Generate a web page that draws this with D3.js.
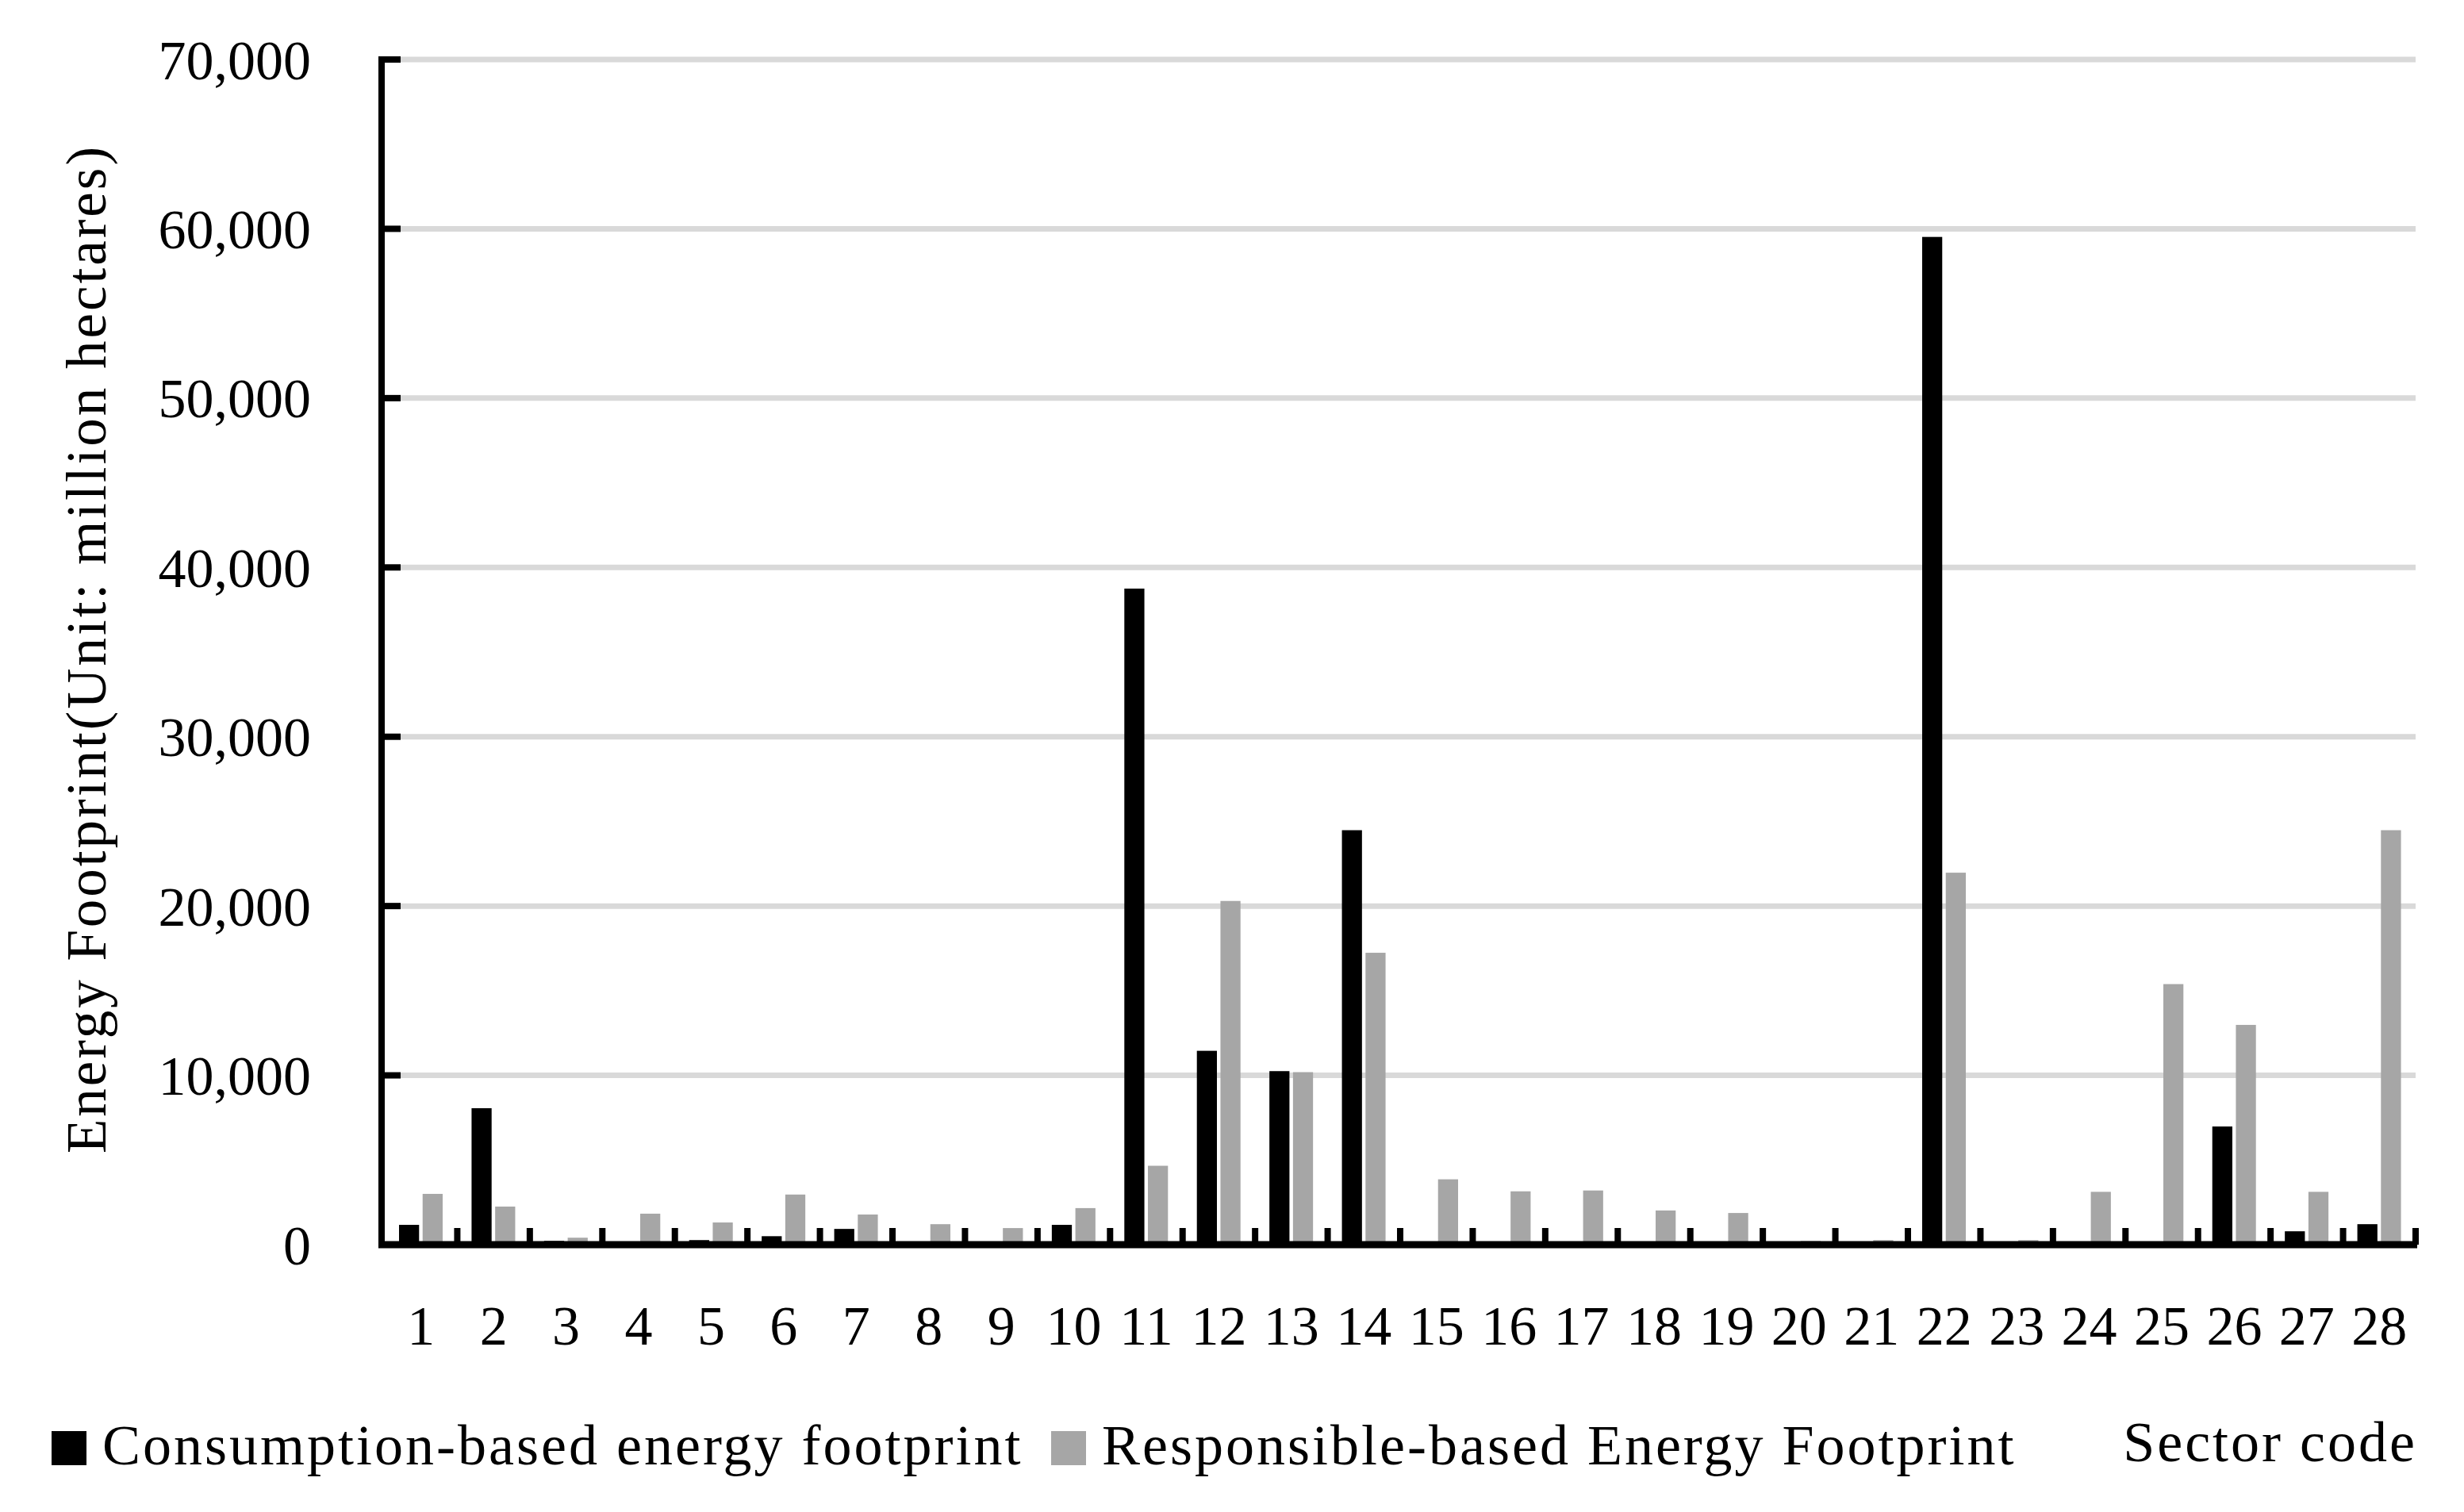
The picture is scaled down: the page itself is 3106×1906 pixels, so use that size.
<!DOCTYPE html>
<html>
<head>
<meta charset="utf-8">
<script src="https://cdn.jsdelivr.net/npm/d3@7"></script>
<style>
  body { margin: 0; background: #fff; }
  text { font-family: "Liberation Serif", "DejaVu Serif", serif; fill: #000; }
  .wide { letter-spacing: 3px; }
</style>
</head>
<body>
<svg width="3106" height="1906"></svg>
<script>
const SECTORS = d3.range(1, 29).map(String);
// consumption-based energy footprint (black bars)
const CONSUMPTION = [1170, 8060, 220, 0, 270, 500, 930, 0, 0, 1170,
  38750, 11450, 10250, 24480, 0, 130, 0, 0, 0, 0,
  0, 59520, 0, 0, 0, 6980, 790, 1210];
// responsible-based energy footprint (grey bars)
const RESPONSIBLE = [3000, 2250, 410, 1830, 1310, 2960, 1780, 1210, 980, 2160,
  4660, 20300, 10190, 17240, 3860, 3150, 3200, 2020, 1870, 220,
  270, 21970, 270, 3120, 15390, 12980, 3120, 24480];
const Y_TICKS = [0, 10000, 20000, 30000, 40000, 50000, 60000, 70000];
const SERIES = ['Consumption-based energy footprint', 'Responsible-based Energy Footprint'];
const COLORS = ['#000000', '#a6a6a6'];

const svg = d3.select('svg');
const plotLeft = 485, plotRight = 3045, plotTop = 75, plotBottom = 1569;

const x = d3.scaleBand().domain(SECTORS).range([plotLeft, plotRight]);
const xInner = d3.scaleBand().domain([0, 1]).range([18, 73]).paddingInner(0.15);
const y = d3.scaleLinear().domain([0, 70000]).range([plotBottom, plotTop]);
const color = d3.scaleOrdinal().domain([0, 1]).range(COLORS);

// gridlines
svg.append('g').selectAll('line')
  .data(Y_TICKS.filter(d => d > 0))
  .enter().append('line')
  .attr('x1', plotLeft).attr('x2', plotRight)
  .attr('y1', d => y(d)).attr('y2', d => y(d))
  .attr('stroke', '#d9d9d9').attr('stroke-width', 7);

// bars
const groups = svg.append('g').selectAll('g')
  .data(SECTORS.map((s, i) => ({ s, v: [CONSUMPTION[i], RESPONSIBLE[i]] })))
  .enter().append('g')
  .attr('transform', d => `translate(${x(d.s)},0)`);

groups.selectAll('rect')
  .data(d => d.v.map((v, k) => ({ k, v })))
  .enter().append('rect')
  .attr('x', d => xInner(d.k))
  .attr('width', xInner.bandwidth())
  .attr('y', d => y(d.v))
  .attr('height', d => y(0) - y(d.v))
  .attr('fill', d => color(d.k));

// y axis: line, inward ticks, labels
svg.append('line')
  .attr('x1', plotLeft - 4).attr('x2', plotLeft - 4)
  .attr('y1', plotTop - 4).attr('y2', plotBottom + 4)
  .attr('stroke', '#000').attr('stroke-width', 8);

svg.append('g').selectAll('line')
  .data(Y_TICKS)
  .enter().append('line')
  .attr('x1', plotLeft - 4).attr('x2', plotLeft + 20)
  .attr('y1', d => y(d)).attr('y2', d => y(d))
  .attr('stroke', '#000').attr('stroke-width', 8);

svg.append('g').selectAll('text')
  .data(Y_TICKS)
  .enter().append('text')
  .attr('x', 392)
  .attr('y', d => y(d))
  .attr('dy', '0.35em')
  .attr('text-anchor', 'end')
  .attr('font-size', 70)
  .text(d => d3.format(',')(d));

// x axis: baseline, inward ticks at band boundaries, labels
svg.append('line')
  .attr('x1', plotLeft - 8).attr('x2', plotRight + 2)
  .attr('y1', plotBottom).attr('y2', plotBottom)
  .attr('stroke', '#000').attr('stroke-width', 9);

svg.append('g').selectAll('line')
  .data(SECTORS)
  .enter().append('line')
  .attr('x1', d => x(d) + x.step()).attr('x2', d => x(d) + x.step())
  .attr('y1', plotBottom).attr('y2', plotBottom - 21)
  .attr('stroke', '#000').attr('stroke-width', 8);

svg.append('g').selectAll('text')
  .data(SECTORS)
  .enter().append('text')
  .attr('x', d => x(d) + x.bandwidth() / 2)
  .attr('y', 1695)
  .attr('text-anchor', 'middle')
  .attr('font-size', 70)
  .text(d => d);

// y axis title
svg.append('text')
  .attr('class', 'wide')
  .attr('transform', 'translate(133,818) rotate(-90)')
  .attr('text-anchor', 'middle')
  .attr('font-size', 71)
  .text('Energy Footprint(Unit: million hectares)');

// legend
const legendX = [65, 1325];
const legend = svg.append('g').selectAll('g')
  .data(SERIES)
  .enter().append('g')
  .attr('transform', (d, i) => `translate(${legendX[i]},0)`);
legend.append('rect')
  .attr('x', 0).attr('y', 1804)
  .attr('width', 44).attr('height', 43)
  .attr('fill', (d, i) => color(i));
legend.append('text')
  .attr('class', 'wide')
  .attr('x', 64).attr('y', 1846)
  .attr('font-size', 72)
  .text(d => d);

svg.append('text')
  .attr('class', 'wide')
  .attr('x', 3047).attr('y', 1842)
  .attr('text-anchor', 'end')
  .attr('font-size', 72)
  .text('Sector code');
</script>
</body>
</html>
